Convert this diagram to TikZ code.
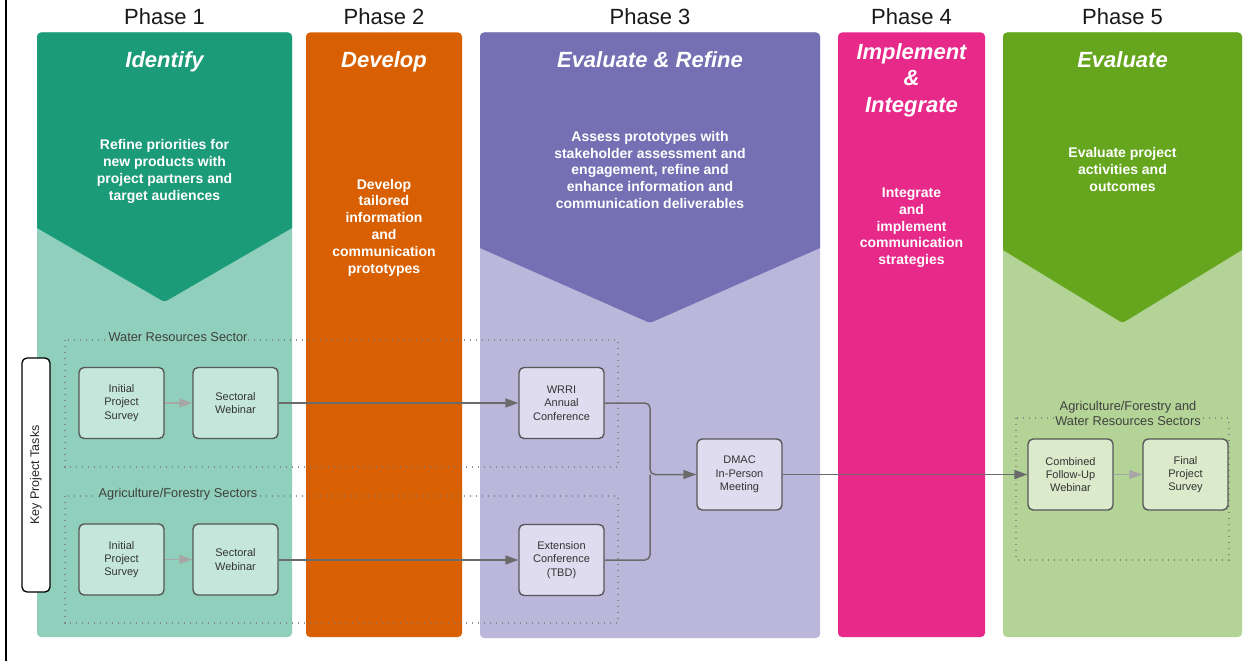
\documentclass[tikz,border=0pt]{standalone}
\usepackage{fontspec}
\setmainfont{Liberation Sans}
\usetikzlibrary{arrows.meta}

% phase colours
\definecolor{pOneDark}{HTML}{1B9B77}
\definecolor{pOneLight}{HTML}{8FCFBB}
\definecolor{pOneNode}{HTML}{C5E7DB}
\definecolor{pTwo}{HTML}{D96002}
\definecolor{pThreeDark}{HTML}{7570B3}
\definecolor{pThreeLight}{HTML}{BAB7DA}
\definecolor{pThreeNode}{HTML}{DEDCEE}
\definecolor{pFour}{HTML}{E7298A}
\definecolor{pFiveDark}{HTML}{66A61E}
\definecolor{pFiveLight}{HTML}{B3D496}
\definecolor{pFiveNode}{HTML}{DAEACB}
\definecolor{taskline}{HTML}{575757}
\definecolor{linkgray}{HTML}{6B6B6B}
\definecolor{softgray}{HTML}{A6A6A6}
\definecolor{dotgray}{HTML}{7A7A7A}

\tikzset{
  phaselabel/.style={font=\fontsize{22}{26}\selectfont, text=black!90, anchor=base, inner sep=0pt},
  phasetitle/.style={font=\fontsize{22}{26.5}\selectfont\bfseries\itshape, text=white, align=center, inner sep=0pt},
  phasedesc/.style={font=\fontsize{14}{16.8}\selectfont\bfseries, text=white, align=center, inner sep=0pt},
  taskbox/.style={draw=taskline, line width=1.4pt, rounded corners=5pt,
    minimum width=85pt, minimum height=71pt, inner sep=2pt,
    font=\fontsize{11}{13.3}\selectfont, align=center, text=black!80},
  dotbox/.style={draw=dotgray, draw opacity=0.8, line width=1.4pt,
    dash pattern=on 1.2pt off 4.8pt},
  sectorlabel/.style={font=\fontsize{12.8}{15.5}\selectfont, text=black!75, align=center, inner sep=1pt},
  link/.style={draw=linkgray, line width=1.5pt, -{Triangle[length=13pt,width=9pt]}},
  softlink/.style={draw=softgray, line width=1.5pt, -{Triangle[length=13pt,width=9pt]}},
}

\begin{document}
\begin{tikzpicture}[x=1pt,y=-1pt]
\useasboundingbox (0,0) rectangle (1247,661);
\fill[white] (0,0) rectangle (1247,661);

% left frame edge
\draw[black, line width=2.3pt] (6.2,0) -- (6.2,661);

% ---- phase columns ----
% Phase 1
\fill[pOneLight, rounded corners=4pt] (37,32.5) rectangle (292,637);
\fill[pOneDark] (37,228) [rounded corners=4pt]-- (37,32.5) -- (292,32.5) [sharp corners]-- (292,228)
  [rounded corners=3pt]-- (164.5,302) [sharp corners]-- cycle;
% Phase 2
\fill[pTwo, rounded corners=4pt] (306,32.5) rectangle (462,637);
% Phase 3
\fill[pThreeLight, rounded corners=4pt] (480,32.5) rectangle (820,638);
\fill[pThreeDark] (480,248) [rounded corners=4pt]-- (480,32.5) -- (820,32.5) [sharp corners]-- (820,248)
  [rounded corners=3pt]-- (650,323) [sharp corners]-- cycle;
% Phase 4
\fill[pFour, rounded corners=4pt] (838,32.5) rectangle (985,637);
% Phase 5
\fill[pFiveLight, rounded corners=4pt] (1003,32.5) rectangle (1242,637);
\fill[pFiveDark] (1003,250) [rounded corners=4pt]-- (1003,32.5) -- (1242,32.5) [sharp corners]-- (1242,250)
  [rounded corners=3pt]-- (1122.5,323) [sharp corners]-- cycle;

% ---- phase headings ----
\node[phaselabel] (h1) at (164.5,24.5) {Phase 1};
\node[phaselabel] (h2) at (384,24.5) {Phase 2};
\node[phaselabel] (h3) at (650,24.5) {Phase 3};
\node[phaselabel] (h4) at (911.5,24.5) {Phase 4};
\node[phaselabel] (h5) at (1122.5,24.5) {Phase 5};

\node[phasetitle, anchor=base] (t1) at (164.5,67) {Identify};
\node[phasetitle, anchor=base] (t2) at (384,67) {Develop};
\node[phasetitle, anchor=base] (t3) at (650,67) {Evaluate \& Refine};
\node[phasetitle] (t4) at (911.5,80) {Implement\\\&\\Integrate};
\node[phasetitle, anchor=base] (t5) at (1122.5,67) {Evaluate};

\node[phasedesc] (d1) at (164.5,171.5) {Refine priorities for\\new products with\\project partners and\\target audiences};
\node[phasedesc] (d2) at (384,227.5) {Develop\\tailored\\information\\and\\communication\\prototypes};
\node[phasedesc] (d3) at (650,169.8) {Assess prototypes with\\stakeholder assessment and\\engagement, refine and\\enhance information and\\communication deliverables};
\node[phasedesc] (d4) at (911.5,227.7) {Integrate\\and\\implement\\communication\\strategies};
\node[phasedesc] (d5) at (1122.5,169.2) {Evaluate project\\activities and\\outcomes};

% ---- sector groups ----
\draw[dotbox] (65,340) rectangle (618,467);
\draw[dotbox] (65,496) rectangle (618,623);
\draw[dotbox] (1016,418) rectangle (1229,560);
\node[sectorlabel, fill=pOneLight] (g1) at (178,337.5) {Water Resources Sector};
\node[sectorlabel, fill=pOneLight] (g2) at (178,494) {Agriculture/Forestry Sectors};
\node[sectorlabel, fill=pFiveLight] (g3) at (1128,413.5) {Agriculture/Forestry and\\Water Resources Sectors};

% ---- side label ----
\node[draw=black, line width=1.3pt, fill=white, rounded corners=5pt, rotate=90,
  minimum width=234pt, minimum height=28pt, inner sep=0pt,
  font=\fontsize{12.5}{15}\selectfont, text=black!85] (kpt) at (36,475) {Key Project Tasks};

% ---- tasks ----
\node[taskbox, fill=pOneNode] (ws1) at (121.5,403) {Initial\\Project\\Survey};
\node[taskbox, fill=pOneNode] (ws2) at (235.5,403) {Sectoral\\Webinar};
\node[taskbox, fill=pOneNode] (as1) at (121.5,559.5) {Initial\\Project\\Survey};
\node[taskbox, fill=pOneNode] (as2) at (235.5,559.5) {Sectoral\\Webinar};
\node[taskbox, fill=pThreeNode] (wrri) at (561.5,403) {WRRI\\Annual\\Conference};
\node[taskbox, fill=pThreeNode] (ext) at (561.5,560) {Extension\\Conference\\(TBD)};
\node[taskbox, fill=pThreeNode] (dmac) at (739.5,474.5) {DMAC\\In-Person\\Meeting};
\node[taskbox, fill=pFiveNode] (comb) at (1070.5,474.5) {Combined\\Follow-Up\\Webinar};
\node[taskbox, fill=pFiveNode] (fin) at (1185.5,474.5) {Final\\Project\\Survey};

% ---- connectors ----
\coordinate (merge) at (650,474.5);
\draw[softlink] (ws1) -- (ws2);
\draw[softlink] (as1) -- (as2);
\draw[link] (ws2) -- (wrri);
\draw[link] (as2.east |- ext.west) -- (ext.west);
\draw[link, rounded corners=5pt] (wrri.east) -| (merge) -- (dmac.west);
\draw[linkgray, line width=1.5pt, rounded corners=5pt] (ext.east) -| (merge);
\draw[link] (dmac) -- (comb);
\draw[softlink] (comb) -- (fin);
\end{tikzpicture}
\end{document}
